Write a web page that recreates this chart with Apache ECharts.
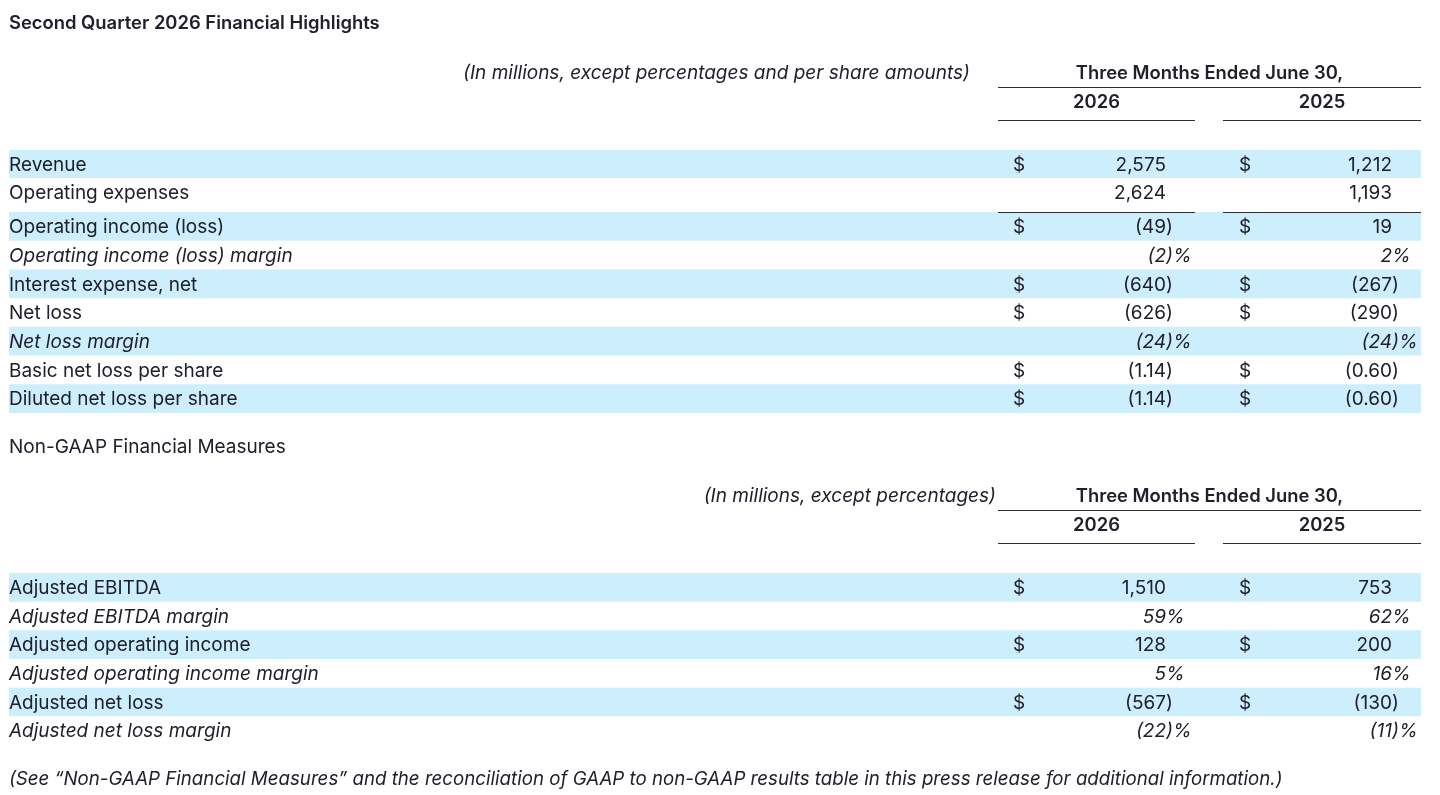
<!DOCTYPE html>
<html>
<head>
<meta charset="utf-8">
<title>Second Quarter 2026 Financial Highlights</title>
<script src="https://cdn.jsdelivr.net/npm/echarts@6.0.0/dist/echarts.min.js"></script>
<style>
  html, body { margin: 0; padding: 0; background: #fff; }
  #main { width: 1440px; height: 795px; }
</style>
</head>
<body>
<div id="main"></div>
<script>
// GAAP table
var gaapRows = ['Revenue', 'Operating expenses', 'Operating income (loss)', 'Operating income (loss) margin',
  'Interest expense, net', 'Net loss', 'Net loss margin', 'Basic net loss per share', 'Diluted net loss per share'];
var gaap2026 = ['2,575', '2,624', '(49)', '(2)%', '(640)', '(626)', '(24)%', '(1.14)', '(1.14)'];
var gaap2025 = ['1,212', '1,193', '19', '2%', '(267)', '(290)', '(24)%', '(0.60)', '(0.60)'];
var gaapDollar = ['$', '', '$', '', '$', '$', '', '$', '$'];

// non-GAAP table
var nonGaapRows = ['Adjusted EBITDA', 'Adjusted EBITDA margin', 'Adjusted operating income',
  'Adjusted operating income margin', 'Adjusted net loss', 'Adjusted net loss margin'];
var nonGaap2026 = ['1,510', '59%', '128', '5%', '(567)', '(22)%'];
var nonGaap2025 = ['753', '62%', '200', '16%', '(130)', '(11)%'];
var nonGaapDollar = ['$', '', '$', '', '$', ''];

// headings
var yearLabels = ['2026', '2025'];
var periodLabel = 'Three Months Ended June 30,';
var titleText = 'Second Quarter 2026 Financial Highlights';
var gaapUnits = '(In millions, except percentages and per share amounts)';
var nonGaapTitle = 'Non-GAAP Financial Measures';
var nonGaapUnits = '(In millions, except percentages)';
var footnote = '(See \u201cNon-GAAP Financial Measures\u201d and the reconciliation of GAAP to non-GAAP results table in this press release for additional information.)';

var FONT = 'Inter, "Noto Sans", sans-serif';
var INK = '#20202c';
var BAND = '#cdeefc';
var RULE = '#2e2e2e';
var FS = 19;
var BOLD = '600 18.4px ' + FONT;
var DY = 1; // nudge text down a touch to sit like the original

// column layout (x in page pixels, mapped through the hidden x axis)
var col = { left: 9, right: 1421, dollar26: 1019, num26: 1166, dollar25: 1245, num25: 1392,
  c26: [998, 1195], c25: [1223, 1421] };

// "(49)" -> ["(49", ")"], "(2)%" -> ["(2", ")%"] so digits line up and ")" / "%" hang
function splitValue(s) {
  var m = s.match(/^(.*?)(\)?%?)$/);
  return [m[1], m[2]];
}

function txt(text, x, y, align, font) {
  return { type: 'text', style: { text: text, x: x, y: y + DY, align: align, verticalAlign: 'middle', font: font, fill: INK } };
}

// first = index of the block's first row in the whole table (for banding),
// ruleTop = draw the subtotal rule above the block
function rowRenderer(rows, v26, v25, dollars, first, ruleTop) {
  return function (params, api) {
    var i = api.value(1);
    var y = api.coord([0, i])[1];
    var h = api.size([0, 1])[1];
    var X = function (v) { return api.coord([v, i])[0]; };
    var italic = /margin/.test(rows[i]);
    var font = (italic ? 'italic ' : '') + FS + 'px ' + FONT;
    var kids = [];
    if ((first + i) % 2 === 0) {
      kids.push({ type: 'rect', shape: { x: X(col.left), y: y - h / 2, width: X(col.right) - X(col.left), height: h },
        style: { fill: BAND } });
    }
    kids.push(txt(rows[i], X(col.left), y, 'left', font));
    if (dollars[i]) {
      kids.push(txt(dollars[i], X(col.dollar26), y, 'center', font));
      kids.push(txt(dollars[i], X(col.dollar25), y, 'center', font));
    }
    [[v26[i], col.num26], [v25[i], col.num25]].forEach(function (p) {
      var parts = splitValue(p[0]);
      kids.push(txt(parts[0], X(p[1]), y, 'right', font));
      if (parts[1]) kids.push(txt(parts[1], X(p[1]), y, 'left', font));
    });
    if (ruleTop && i === 0) {
      [col.c26, col.c25].forEach(function (c) {
        kids.push({ type: 'line', shape: { x1: X(c[0]), y1: y - h / 2 + 0.5, x2: X(c[1]), y2: y - h / 2 + 0.5 },
          style: { stroke: RULE, lineWidth: 1 } });
      });
    }
    return { type: 'group', children: kids };
  };
}

function header(unitsText, unitsRight, yPeriod, yLine, yYear, yUnder) {
  var g = [];
  g.push({ type: 'text', x: unitsRight, y: yPeriod + DY, style: { text: unitsText, align: 'right', verticalAlign: 'middle',
    font: 'italic ' + FS + 'px ' + FONT, fill: INK } });
  g.push({ type: 'text', x: (col.c26[0] + col.c25[1]) / 2, y: yPeriod + DY, style: { text: periodLabel, align: 'center',
    verticalAlign: 'middle', font: BOLD, fill: INK } });
  g.push({ type: 'line', shape: { x1: col.c26[0], y1: yLine, x2: col.c25[1], y2: yLine }, style: { stroke: RULE, lineWidth: 1 } });
  [col.c26, col.c25].forEach(function (c, k) {
    g.push({ type: 'text', x: (c[0] + c[1]) / 2, y: yYear + DY, style: { text: yearLabels[k], align: 'center',
      verticalAlign: 'middle', font: BOLD, fill: INK } });
    g.push({ type: 'line', shape: { x1: c[0], y1: yUnder, x2: c[1], y2: yUnder }, style: { stroke: RULE, lineWidth: 1 } });
  });
  return g;
}

var graphics = [
  { type: 'text', x: 9, y: 22 + DY, style: { text: titleText, verticalAlign: 'middle', font: BOLD, fill: INK } },
  { type: 'text', x: 9, y: 446 + DY, style: { text: nonGaapTitle, verticalAlign: 'middle', font: FS + 'px ' + FONT, fill: INK } },
  { type: 'text', x: 9, y: 778 + DY, style: { text: footnote, verticalAlign: 'middle', font: 'italic 18.7px ' + FONT, fill: INK } }
].concat(header(gaapUnits, 970, 72, 87.5, 101, 120.5), header(nonGaapUnits, 996, 495, 510.5, 524, 543.5));

// the GAAP table breaks at the subtotal rule above "Operating income (loss)"
var SPLIT = 2;
var blocks = [
  { grid: { left: 0, right: 0, top: 150, height: 56 }, rows: gaapRows.slice(0, SPLIT), v26: gaap2026.slice(0, SPLIT),
    v25: gaap2025.slice(0, SPLIT), dollars: gaapDollar.slice(0, SPLIT), first: 0, rule: false },
  { grid: { left: 0, right: 0, top: 212, height: 201 }, rows: gaapRows.slice(SPLIT), v26: gaap2026.slice(SPLIT),
    v25: gaap2025.slice(SPLIT), dollars: gaapDollar.slice(SPLIT), first: SPLIT, rule: true },
  { grid: { left: 0, right: 0, top: 573, height: 172 }, rows: nonGaapRows, v26: nonGaap2026,
    v25: nonGaap2025, dollars: nonGaapDollar, first: 0, rule: false }
];

var chart = echarts.init(document.getElementById('main'));
chart.setOption({
  animation: false,
  grid: blocks.map(function (b) { return b.grid; }),
  xAxis: blocks.map(function (b, k) { return { type: 'value', gridIndex: k, min: 0, max: 1440, show: false }; }),
  yAxis: blocks.map(function (b, k) { return { type: 'category', gridIndex: k, inverse: true, data: b.rows, show: false }; }),
  graphic: graphics,
  series: blocks.map(function (b, k) {
    return {
      type: 'custom', xAxisIndex: k, yAxisIndex: k, clip: false,
      encode: { x: 0, y: 1 },
      data: b.rows.map(function (r, i) { return [0, i]; }),
      renderItem: rowRenderer(b.rows, b.v26, b.v25, b.dollars, b.first, b.rule)
    };
  })
});
</script>
</body>
</html>
